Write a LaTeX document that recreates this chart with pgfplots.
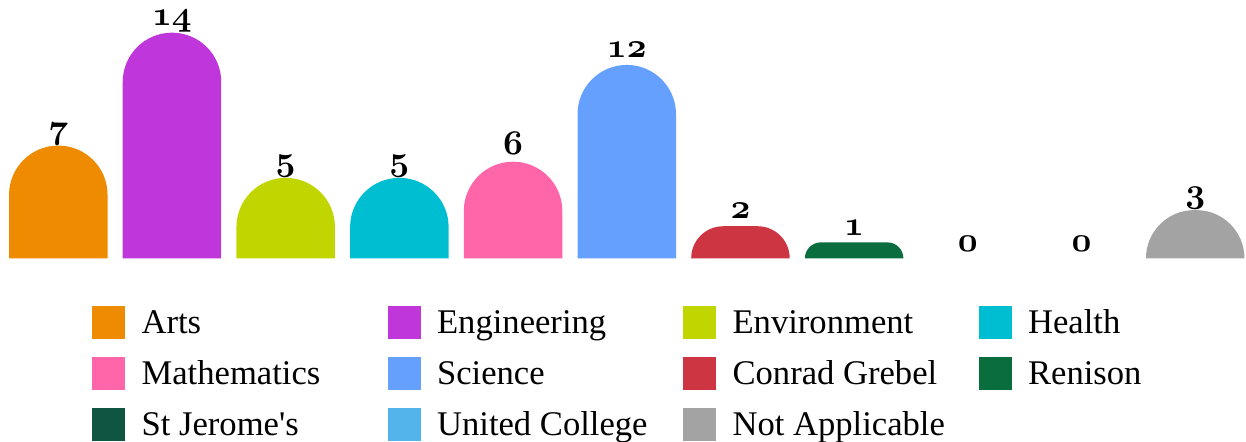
\documentclass[border=0pt]{standalone}
\usepackage{pgfplots}
\pgfplotsset{compat=1.18}
\usepackage{fontspec}
\setmainfont{Liberation Serif}
\newfontfamily\aposfont{Liberation Serif}[Ligatures=TeXOff]
\definecolor{arts}{HTML}{EE8B00}
\definecolor{eng}{HTML}{BF36DB}
\definecolor{env}{HTML}{C1D600}
\definecolor{health}{HTML}{00BED1}
\definecolor{math}{HTML}{FF66AA}
\definecolor{sci}{HTML}{66A0FF}
\definecolor{cg}{HTML}{CD3542}
\definecolor{ren}{HTML}{096D3D}
\definecolor{sj}{HTML}{0F5541}
\definecolor{uc}{HTML}{53B4EC}
\definecolor{na}{HTML}{A3A3A3}
\newcommand{\lgd}[1]{\makebox[122.95pt][l]{#1}}
\begin{document}
\begin{tikzpicture}[font=\fontsize{17.3}{20}\selectfont]
\path[use as bounding box] (0,0) rectangle (623pt,221pt);
\begin{axis}[
  at={(0pt,91.75pt)}, anchor=south west,
  x=56.845pt, y=8.065pt,
  xmin=-0.5128, xmax=10.4468, ymin=0, ymax=16.03,
  hide axis, clip=false,
  legend columns=4,
  legend image code/.code={\path[draw=none, fill=none] (0pt,-7.5pt) rectangle (0.01pt,18pt);\fill[#1, sharp corners] (0pt,-2.7pt) rectangle (16.5pt,13.8pt);},
  legend style={at={(0,0)}, anchor=north west, xshift=46pt, yshift=-19.4pt,
    draw=none, fill=none, inner sep=0pt, outer sep=0pt, row sep=0pt, column sep=0pt,
    nodes={inner sep=0pt, outer sep=0pt},
    cells={anchor=base west},
    /tikz/every odd column/.append style={column sep=8.3pt}},
]
% bars
\addplot[fill=arts, draw=none, rounded corners=24.6pt, forget plot] coordinates {(-0.4332,0) (-0.4332,7) (0.4332,7) (0.4332,0)};
\addplot[fill=eng, draw=none, rounded corners=24.6pt, forget plot] coordinates {(0.5668,0) (0.5668,14) (1.4332,14) (1.4332,0)};
\addplot[fill=env, draw=none, rounded corners=24.6pt, forget plot] coordinates {(1.5668,0) (1.5668,5) (2.4332,5) (2.4332,0)};
\addplot[fill=health, draw=none, rounded corners=24.6pt, forget plot] coordinates {(2.5668,0) (2.5668,5) (3.4332,5) (3.4332,0)};
\addplot[fill=math, draw=none, rounded corners=24.6pt, forget plot] coordinates {(3.5668,0) (3.5668,6) (4.4332,6) (4.4332,0)};
\addplot[fill=sci, draw=none, rounded corners=24.6pt, forget plot] coordinates {(4.5668,0) (4.5668,12) (5.4332,12) (5.4332,0)};
\addplot[fill=cg, draw=none, rounded corners=16pt, forget plot] coordinates {(5.5668,0) (5.5668,2) (6.4332,2) (6.4332,0)};
\addplot[fill=ren, draw=none, rounded corners=8pt, forget plot] coordinates {(6.5668,0) (6.5668,1) (7.4332,1) (7.4332,0)};
\addplot[fill=na, draw=none, rounded corners=24.1pt, forget plot] coordinates {(9.5668,0) (9.5668,3) (10.4332,3) (10.4332,0)};
% value labels
\addplot[draw=none, mark=none, forget plot, point meta=y,
  nodes near coords={$\mathnormal{\pgfmathprintnumber{\pgfplotspointmeta}}$},
  every node near coord/.append style={anchor=base, yshift=3.65pt, inner sep=0pt, font=\fontsize{17.28}{20}\selectfont\boldmath}]
  coordinates {(0,7) (1,14) (2,5) (3,5) (4,6) (5,12) (6,2) (7,1) (8,0) (9,0) (10,3)};
% legend
\addlegendimage{fill=arts, draw=none}\addlegendentry{\lgd{Arts}}
\addlegendimage{fill=eng, draw=none}\addlegendentry{\lgd{Engineering}}
\addlegendimage{fill=env, draw=none}\addlegendentry{\lgd{Environment}}
\addlegendimage{fill=health, draw=none}\addlegendentry{\lgd{Health}}
\addlegendimage{fill=math, draw=none}\addlegendentry{\lgd{Mathematics}}
\addlegendimage{fill=sci, draw=none}\addlegendentry{\lgd{Science}}
\addlegendimage{fill=cg, draw=none}\addlegendentry{\lgd{Conrad Grebel}}
\addlegendimage{fill=ren, draw=none}\addlegendentry{\lgd{Renison}}
\addlegendimage{fill=sj, draw=none}\addlegendentry{\lgd{St Jerome{\aposfont'}s}}
\addlegendimage{fill=uc, draw=none}\addlegendentry{\lgd{United College}}
\addlegendimage{fill=na, draw=none}\addlegendentry{\lgd{Not Applicable}}
\end{axis}
\end{tikzpicture}
\end{document}
